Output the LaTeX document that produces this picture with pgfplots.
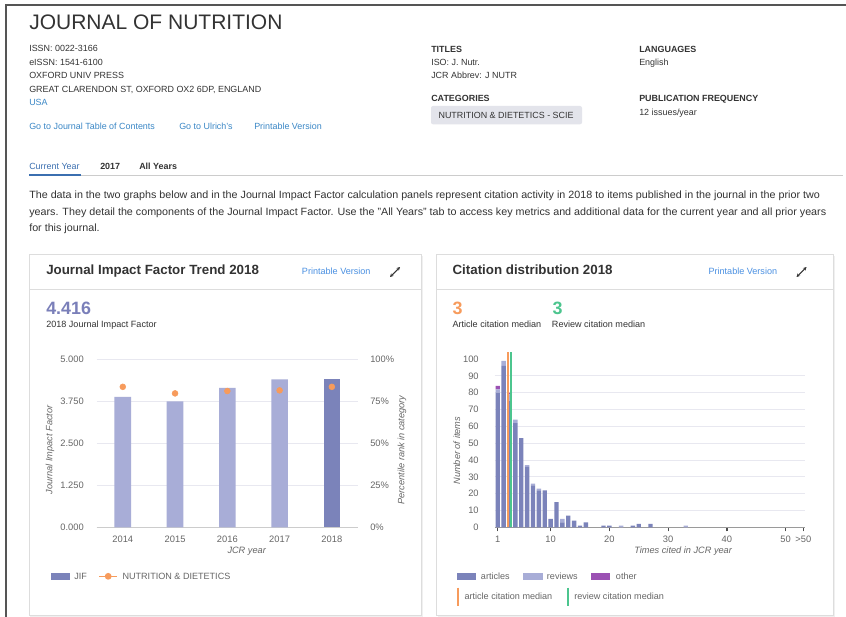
\documentclass[border=0pt]{standalone}
\usepackage{fontspec}
\setmainfont{Liberation Sans}
\usepackage{graphicx}
\usepackage{pgfplots}
\usepackage{pgfplotstable}
\pgfplotsset{compat=1.18}
\usetikzlibrary{arrows.meta}

\definecolor{txt}{HTML}{333333}
\definecolor{tickc}{HTML}{666666}
\definecolor{linkc}{HTML}{3A87C6}
\definecolor{plink}{HTML}{4A90E2}
\definecolor{tabc}{HTML}{3B6FB0}
\definecolor{jifc}{HTML}{7A7FB9}
\definecolor{barl}{HTML}{A8ADD7}
\definecolor{bard}{HTML}{7B83BA}
\definecolor{orng}{HTML}{F79B5C}
\definecolor{grn}{HTML}{4CC58E}
\definecolor{purp}{HTML}{9B51B3}
\definecolor{gridc}{HTML}{E8E8F0}
\definecolor{axisc}{HTML}{CCCCCC}
\definecolor{haxisc}{HTML}{9A9A9A}
\definecolor{boxc}{HTML}{E3E4EB}
\definecolor{cardb}{HTML}{DDDDDD}
\definecolor{pageb}{HTML}{555555}

\newcommand\fs[1]{\fontsize{#1}{#1}\selectfont}
\newcommand\pfont{\fontsize{7.9}{9}\selectfont}
\newcommand\lineA{The data in the two graphs below and in the Journal Impact Factor calculation panels represent citation activity in 2018 to items published in the journal in the prior two}
\newcommand\lineB{years. They detail the components of the Journal Impact Factor. Use the "All Years" tab to access key metrics and additional data for the current year and all prior years}
\newcommand\lineC{for this journal.}
\newlength\Lone

\pgfplotstableread{
yr jif pct
0 3.875 83.5
1 3.740 79.6
2 4.145 81.0
3 4.398 81.4
4 4.416 83.5
}\jifdata

\pgfplotstableread{
x art rev oth
1 80 2 2
2 96 3 0
3 75 4 1
4 62 2 0
5 53 0 0
6 36 1 0
7 25 1 0
8 22 1 0
9 22 0 0
10 5 0 0
11 15 0 0
12 3 2 0
13 7 0 0
14 4 0 0
15 1 0 0
16 3 0 0
17 0 0 0
18 0 0 0
19 1 0 0
20 1 0 0
21 0 0 0
22 0 1 0
23 0 0 0
24 1 0 0
25 2 0 0
26 0 0 0
27 2 0 0
28 0 0 0
29 0 0 0
30 0 0 0
31 0 0 0
32 0 0 0
33 0 1 0
}\histdata

\tikzset{alab/.style={font=\fs{6.9}\itshape, text=tickc}}
\pgfplotsset{
  tl/.style={tick label style={font=\fs{7}, text=tickc}},
}

\begin{document}%
\settowidth\Lone{\pfont\lineA}%
\pgfmathsetmacro\pscale{593/\Lone}%
\begin{tikzpicture}
\path[use as bounding box] (0pt,0pt) rectangle (634.5pt,-462.75pt);
\begin{scope}[x=0.75pt,y=-0.75pt, t/.style={anchor=base west, inner sep=0pt, text=txt}]
\fill[white] (0,0) rectangle (846,617);
\draw[pageb, line width=1.5pt] (6,617) -- (6,5) -- (846,5);

% header
\node[t, font=\fs{15.75}] at (29,30) {JOURNAL OF NUTRITION};
\node[t, font=\fs{6.7}] at (29,51.5) {ISSN: 0022-3166};
\node[t, font=\fs{6.7}] at (29,65) {eISSN: 1541-6100};
\node[t, font=\fs{6.7}] at (29,78.7) {OXFORD UNIV PRESS};
\node[t, font=\fs{6.7}] at (29,92.3) {GREAT CLARENDON ST, OXFORD OX2 6DP, ENGLAND};
\node[t, font=\fs{6.7}, text=linkc] at (29,106) {USA};
\node[t, font=\fs{6.7}, text=linkc] at (29,129) {Go to Journal Table of Contents};
\node[t, font=\fs{6.7}, text=linkc] at (179,129) {Go to Ulrich's};
\node[t, font=\fs{6.7}, text=linkc] at (254,129) {Printable Version};

\node[t, font=\fs{6.7}\bfseries] at (431,52.2) {TITLES};
\node[t, font=\fs{6.7}] at (431,65.5) {ISO: J. Nutr.};
\node[t, font=\fs{6.7}] at (431,79) {JCR Abbrev: J NUTR};
\node[t, font=\fs{6.7}\bfseries] at (431,101.5) {CATEGORIES};
\fill[boxc, rounded corners=1.5pt] (431,106) rectangle (582,124.3);
\node[t, font=\fs{6.7}] at (438.3,118.3) {NUTRITION \& DIETETICS - SCIE};
\node[t, font=\fs{6.7}\bfseries] at (639,52.2) {LANGUAGES};
\node[t, font=\fs{6.7}] at (639,65.5) {English};
\node[t, font=\fs{6.7}\bfseries] at (639,101.5) {PUBLICATION FREQUENCY};
\node[t, font=\fs{6.7}] at (639,115) {12 issues/year};

% tabs
\node[t, font=\fs{6.7}, text=tabc] at (29,169.5) {Current Year};
\node[t, font=\fs{6.7}\bfseries] at (100,169.5) {2017};
\node[t, font=\fs{6.7}\bfseries] at (139,169.5) {All Years};
\draw[axisc, line width=0.75pt] (81,175) -- (843,175);
\draw[tabc, line width=1.5pt] (29,175) -- (81,175);

% paragraph
\node[t] at (29,198) {\scalebox{\pscale}[1]{\pfont\lineA}};
\node[t] at (29,215) {\scalebox{\pscale}[1]{\pfont\lineB}};
\node[t] at (29,231) {\scalebox{\pscale}[1]{\pfont\lineC}};

% cards
\fill[black!6] (30,255.5) rectangle (422.5,616.5);
\filldraw[fill=white, draw=cardb, line width=0.6pt] (29,254) rectangle (421,615);
\draw[cardb, line width=0.6pt] (29,289.3) -- (421,289.3);
\fill[black!6] (437.5,255.5) rectangle (834.5,616.5);
\filldraw[fill=white, draw=cardb, line width=0.6pt] (436.5,254) rectangle (833,615);
\draw[cardb, line width=0.6pt] (436.5,289.3) -- (833,289.3);

% card headers
\node[t, font=\fs{10}\bfseries] at (46,274.5) {Journal Impact Factor Trend 2018};
\node[t, font=\fs{6.8}, text=plink] at (301.7,274.3) {Printable Version};
\draw[txt, line width=0.8pt, {Stealth[length=2.6pt,width=2.6pt]}-{Stealth[length=2.6pt,width=2.6pt]}] (390,277) -- (400,267);
\node[t, font=\fs{13.4}\bfseries, text=jifc] at (46,314.7) {4.416};
\node[t, font=\fs{6.8}] at (46,327.3) {2018 Journal Impact Factor};

\node[t, font=\fs{10}\bfseries] at (452.3,274.5) {Citation distribution 2018};
\node[t, font=\fs{6.8}, text=plink] at (708.3,274.3) {Printable Version};
\draw[txt, line width=0.8pt, {Stealth[length=2.6pt,width=2.6pt]}-{Stealth[length=2.6pt,width=2.6pt]}] (796.5,277) -- (806.5,267);
\node[t, font=\fs{13.4}\bfseries, text=orng] at (452.3,314.7) {3};
\node[t, font=\fs{6.8}] at (452.3,327.3) {Article citation median};
\node[t, font=\fs{13.4}\bfseries, text=grn] at (552.3,314.7) {3};
\node[t, font=\fs{6.8}] at (551.7,327.3) {Review citation median};

% legends (left)
\fill[bard] (51,572.5) rectangle (70,580);
\node[t, font=\fs{6.8}, text=tickc] at (74,579) {JIF};
\draw[orng, line width=1.1pt] (99,576.3) -- (117.3,576.3);
\fill[orng] (108.2,576.3) circle (3.4);
\node[t, font=\fs{6.8}, text=tickc] at (122.3,579) {NUTRITION \& DIETETICS};

% legends (right)
\fill[bard] (457.3,572.5) rectangle (476,580);
\node[t, font=\fs{6.8}, text=tickc] at (480.7,579) {articles};
\fill[barl] (523.3,572.5) rectangle (542.7,580);
\node[t, font=\fs{6.8}, text=tickc] at (546.7,579) {reviews};
\fill[purp] (591,572.5) rectangle (610.3,580);
\node[t, font=\fs{6.8}, text=tickc] at (615.7,579) {other};
\draw[orng, line width=1.5pt] (458.3,587.7) -- (458.3,605.7);
\node[t, font=\fs{6.8}, text=tickc] at (464.3,599.5) {article citation median};
\draw[grn, line width=1.5pt] (568,587.7) -- (568,605.7);
\node[t, font=\fs{6.8}, text=tickc] at (574,599.5) {review citation median};
\end{scope}

% ---------- JIF trend ----------
\begin{axis}[
  at={(72.5pt,-395.5pt)}, anchor=south west,
  scale only axis, width=196pt, height=126.2pt,
  xmin=-0.5, xmax=4.5, ymin=0, ymax=5,
  axis x line*=bottom, axis y line*=left,
  x axis line style={-, draw=axisc, line width=0.8pt},
  y axis line style={draw=none},
  major tick length=0pt,
  xtick={0,1,2,3,4}, xticklabels={2014,2015,2016,2017,2018},
  ytick={0,1.25,2.5,3.75,5}, yticklabels={0.000,1.250,2.500,3.750,5.000},
  ymajorgrids, grid style={gridc, line width=0.75pt},
  tl,
  yticklabel style={anchor=east, inner sep=0pt, xshift=-9.5pt},
  xticklabel style={anchor=center, inner sep=0pt, yshift=-9pt},
  every axis x label/.style={at={(axis description cs:0.574,0)}, anchor=center, yshift=-18pt, alab},
  every axis y label/.style={at={(axis description cs:-0.179,0.46)}, rotate=90, anchor=center, alab},
  xlabel={JCR year}, ylabel={Journal Impact Factor},
  /pgf/number format/assume math mode=true,
]
\addplot[ybar, bar width=12.5pt, bar shift=0pt, fill=barl, draw=none] table[x=yr, y=jif, restrict x to domain=0:3] {\jifdata};
\addplot[ybar, bar width=12.5pt, bar shift=0pt, fill=bard, draw=none] table[x=yr, y=jif, restrict x to domain=4:4] {\jifdata};
\end{axis}
\begin{axis}[
  at={(72.5pt,-395.5pt)}, anchor=south west,
  scale only axis, width=196pt, height=126.2pt,
  xmin=-0.5, xmax=4.5, ymin=0, ymax=100,
  axis x line=none, axis y line*=right,
  y axis line style={draw=none},
  major tick length=0pt,
  ytick={0,25,50,75,100}, yticklabels={0\%,25\%,50\%,75\%,100\%},
  tl,
  yticklabel style={anchor=west, inner sep=0pt, xshift=9pt},
  every axis y label/.style={at={(axis description cs:1.168,0.46)}, rotate=90, anchor=center, alab},
  ylabel={Percentile rank in category},
  /pgf/number format/assume math mode=true,
]
\addplot[orng, only marks, mark=*, mark size=2.2pt, mark options={draw=orng, fill=orng}] table[x=yr, y=pct] {\jifdata};
\end{axis}

% ---------- citation distribution ----------
\begin{axis}[
  at={(371.1pt,-395.5pt)}, anchor=south west,
  scale only axis, width=232.7pt, height=131.25pt,
  xmin=0.5, xmax=53.3, ymin=0, ymax=104,
  ybar stacked, bar width=3.3pt,
  axis x line*=bottom, axis y line*=left,
  x axis line style={-, draw=haxisc, line width=0.9pt},
  y axis line style={draw=none},
  xtick={1,10,20,30,40,50,53}, xticklabels={1,10,20,30,40,50,>50},
  tick align=outside, major tick length=3pt,
  xtick style={draw=black!70, line width=0.9pt}, ytick style={draw=none},
  ytick={0,10,...,90}, extra y ticks={100}, extra y tick style={grid=none, tick style={draw=none}},
  ymajorgrids, grid style={gridc, line width=0.75pt},
  tl,
  yticklabel style={anchor=east, inner sep=0pt, xshift=-8.9pt},
  xticklabel style={anchor=center, inner sep=0pt, yshift=-5.6pt},
  every axis x label/.style={at={(axis description cs:0.607,0)}, anchor=center, yshift=-18pt, alab},
  every axis y label/.style={at={(axis description cs:-0.122,0.438)}, rotate=90, anchor=center, alab},
  xlabel={Times cited in JCR year}, ylabel={Number of items},
  /pgf/number format/assume math mode=true,
]
\addplot[fill=bard, draw=none] table[x=x, y=art] {\histdata};
\addplot[fill=barl, draw=none] table[x=x, y=rev] {\histdata};
\addplot[fill=purp, draw=none] table[x=x, y=oth] {\histdata};
\end{axis}
\begin{axis}[
  at={(371.1pt,-395.5pt)}, anchor=south west,
  scale only axis, width=232.7pt, height=131.25pt,
  xmin=0.5, xmax=53.3, ymin=0, ymax=104,
  hide axis,
]
\addplot[orng, line width=1.5pt] coordinates {(2.72,0) (2.72,104)};
\addplot[grn, line width=1.5pt] coordinates {(3.22,0) (3.22,104)};
\end{axis}
\end{tikzpicture}%
\end{document}
